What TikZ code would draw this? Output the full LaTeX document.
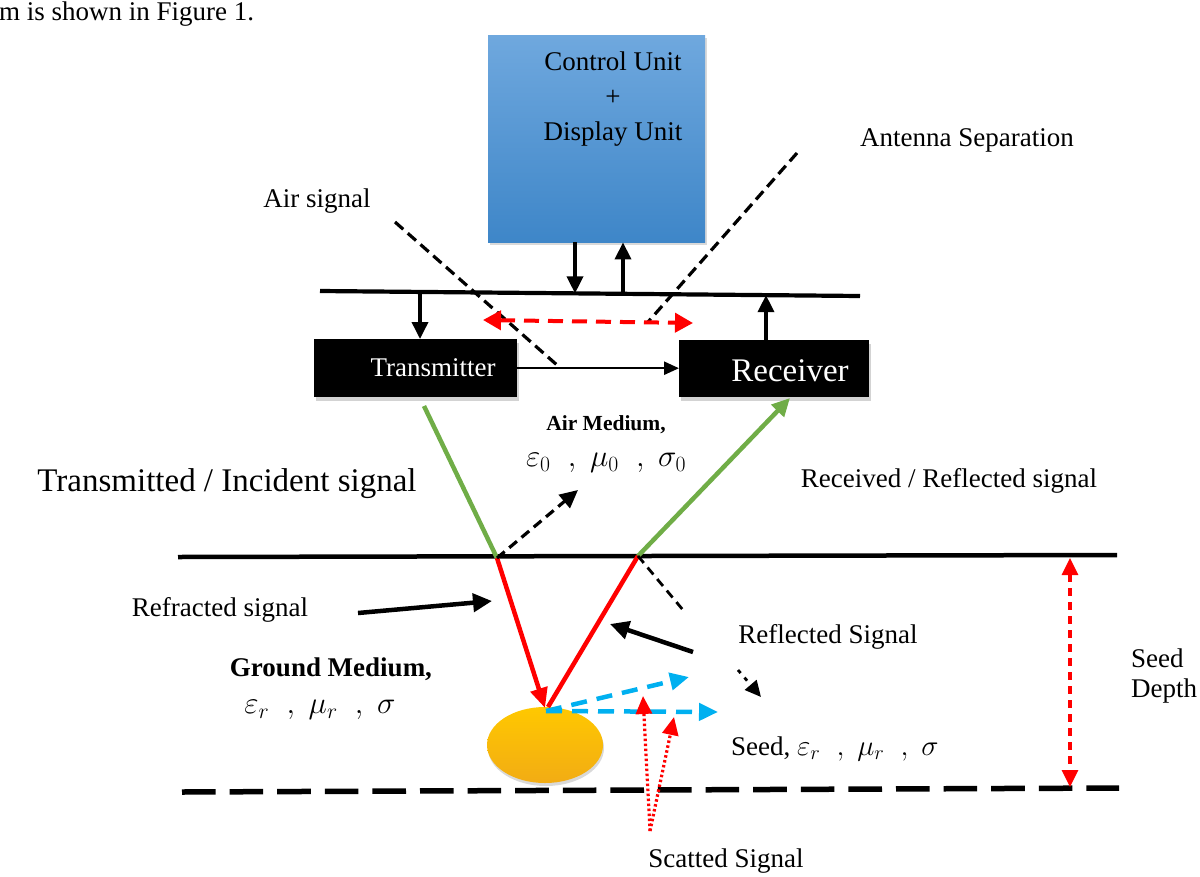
\documentclass[tikz,border=0pt]{standalone}
\usepackage{fix-cm}
\usepackage{fontspec}
\setmainfont{Liberation Serif}
\usetikzlibrary{arrows.meta,shadows,calc,shapes.geometric}
\definecolor{cublueT}{RGB}{111,168,222}
\definecolor{cublueB}{RGB}{62,134,200}
\definecolor{grn}{RGB}{112,173,71}
\definecolor{cyanb}{RGB}{0,176,240}
\definecolor{sigred}{RGB}{255,0,0}
\definecolor{seedT}{RGB}{255,200,0}
\definecolor{seedB}{RGB}{242,172,20}
\newcommand{\mparams}[3]{$#1\;\;,\;#2\;\;,\;#3$}
\begin{document}
\begin{tikzpicture}[x=1pt,y=-1pt,
  lbl/.style={inner sep=0pt, font=\fontsize{27}{31}\selectfont},
  mathlbl/.style={inner sep=0pt, font=\fontsize{31}{34}\selectfont},
  tip/.style={-{Triangle[length=17pt,width=16pt]}},
  tipsm/.style={-{Triangle[length=15pt,width=13pt]}},
  blackbox/.style={fill=black, text=white, inner sep=0pt, anchor=north west,
     drop shadow={opacity=0.35, shadow xshift=2pt, shadow yshift=-4pt}},
  busline/.style={line width=4.2pt},
  conn/.style={line width=3.6pt, tip},
  airdash/.style={line width=3.2pt, dash pattern=on 11pt off 6pt},
  grnline/.style={draw=grn, line width=4.5pt},
  redline/.style={draw=sigred, line width=4.5pt},
  bluearrow/.style={draw=cyanb, line width=4.5pt, dash pattern=on 16pt off 10pt,
     -{Triangle[length=19pt,width=17pt]}},
  dotarrow/.style={draw=sigred, line width=3.2pt, dash pattern=on 2.5pt off 2.5pt,
     -{Triangle[length=18pt,width=16pt]}},
  reddbl/.style={draw=sigred, line width=4pt, dash pattern=on 15pt off 9pt,
     {Triangle[length=18pt,width=19pt]}-{Triangle[length=18pt,width=19pt]}},
  ]
\useasboundingbox (0,0) rectangle (1200,876);

% stray caption text
\node[lbl, anchor=west] (cap) at (-1,14) {m is shown in Figure 1.};

% Control unit box
\node[anchor=north west, minimum width=217pt, minimum height=207pt, inner sep=0pt,
      top color=cublueT, bottom color=cublueB,
      drop shadow={opacity=0.3, shadow xshift=2pt, shadow yshift=-3pt}] (cu) at (488,35) {};
\node[lbl, align=center] (cutxt) at (613,99) {Control Unit\\[4pt]+\\[4pt]Display Unit};

% Bus line
\coordinate (busL) at (320,291);
\coordinate (busR) at (860,296);
\draw[busline] (busL) -- (busR);
\coordinate (b1) at (575,293.4);
\coordinate (b2) at (623,293.8);
\coordinate (b3) at (420,291.9);
\coordinate (b4) at (766,295.1);

% Transmitter / Receiver
\node[blackbox, minimum width=203pt, minimum height=58pt] (tx) at (314,339) {};
\node[lbl, text=white] (txt) at (433,368) {Transmitter};
\node[blackbox, minimum width=190pt, minimum height=57pt] (rx) at (679,340) {};
\node[inner sep=0pt, text=white, font=\fontsize{33}{36}\selectfont] (rxt) at (790,371) {Receiver};

\draw[conn] (cu.south -| b1) -- (b1);
\draw[conn] (b2) -- (cu.south -| b2);
\draw[conn] (b3) -- (tx.north -| b3);
\draw[conn] (rx.north -| b4) -- (b4);
\draw[line width=2.5pt, tipsm] (tx.east) -- (tx.east -| rx.west);

% Air signal / antenna separation dashed lines
\coordinate (as1) at (395,222);
\coordinate (as2) at (557,365);
\draw[airdash] (as1) -- (as2);
\coordinate (sp1) at (797,153);
\coordinate (sp2) at (648,322);
\draw[airdash] (sp1) -- (sp2);
\node[lbl] (airsig) at (317,201) {Air signal};
\node[lbl] (antsep) at (967,140) {Antenna Separation};

% red separation arrow
\coordinate (rs1) at (483,320);
\coordinate (rs2) at (693,323);
\draw[reddbl] (rs1) -- (rs2);

% Interface lines
\coordinate (gL) at (178,557);
\coordinate (gR) at (1117,555);
\draw[line width=4.5pt] (gL) -- (gR);
\coordinate (dL) at (182,792);
\coordinate (dR) at (1119,788);
\draw[line width=5.5pt, dash pattern=on 33.6pt off 14pt] (dL) -- (dR);

% points
\coordinate (tx0) at (424,406);
\coordinate (P1) at (497,558);
\coordinate (P2) at (638,556);
\coordinate (rx0) at (790,398);
\coordinate (S1) at (545,708);
\coordinate (S2) at (548,707);

% seed
\node[ellipse, minimum width=116pt, minimum height=76pt, inner sep=0pt,
      top color=seedT, bottom color=seedB,
      drop shadow={opacity=0.3, shadow xshift=1pt, shadow yshift=-3pt}] (seed) at (545,745) {};

% green & red rays
\draw[grnline] (tx0) -- (P1);
\draw[grnline, -{Triangle[length=18pt,width=17pt]}] (P2) -- (rx0);
\draw[redline, -{Triangle[length=20pt,width=17pt]}] (P1) -- (S1);
\draw[redline] (S2) -- (P2);

% reflected in air dashed arrow
\coordinate (am) at (578,490);
\draw[line width=3.2pt, dash pattern=on 10pt off 6pt, -{Triangle[length=18pt,width=17pt]}] (P1) -- (am);
\coordinate (ext) at (683,610);
\draw[line width=2.8pt, dash pattern=on 9pt off 6pt] (P2) -- (ext);

% labels
\node[inner sep=0pt, font=\bfseries\fontsize{21.5}{24}\selectfont] (airmed) at (606,425) {Air Medium,};
\node[mathlbl] (airpar) at (606,463) {\mparams{\varepsilon_0}{\mu_0}{\sigma_0}};
\node[inner sep=0pt, font=\fontsize{33}{36}\selectfont] (incid) at (227,484) {Transmitted / Incident signal};
\node[lbl] (recv) at (949,481) {Received / Reflected signal};
\node[lbl] (refr) at (220,610) {Refracted signal};
\node[lbl] (refl) at (828,637) {Reflected Signal};
\node[inner sep=0pt, font=\bfseries\fontsize{27}{31}\selectfont] (gmed) at (331,669) {Ground Medium,};
\node[mathlbl] (gpar) at (320,710) {\mparams{\varepsilon_r}{\mu_r}{\sigma}};
\node[lbl, anchor=west] (seedlbl) at (731,749) {Seed, {\fontsize{29}{32}\selectfont\mparams{\varepsilon_r}{\mu_r}{\sigma}}};
\node[lbl, anchor=west, align=left] (depth) at (1131,676) {Seed\\[-1pt]Depth};
\node[lbl] (scat) at (726,861) {Scatted Signal};

% pointer arrows
\coordinate (rf1) at (358,613);
\coordinate (rf2) at (492,601);
\draw[line width=4.5pt, -{Triangle[length=19pt,width=18pt]}] (rf1) -- (rf2);
\coordinate (rl1) at (693,652);
\coordinate (rl2) at (610,624);
\draw[line width=4.5pt, -{Triangle[length=19pt,width=18pt]}] (rl1) -- (rl2);
\coordinate (sm1) at (738,670);
\coordinate (sm2) at (761,697);
\draw[line width=2.8pt, dash pattern=on 4pt off 6pt, -{Triangle[length=16pt,width=15pt]}] (sm1) -- (sm2);

% blue scattered arrows
\coordinate (bs) at (546,711);
\coordinate (be1) at (689,677);
\coordinate (be2) at (718,712);
\draw[bluearrow] (bs) -- (be1);
\draw[bluearrow] (bs) -- (be2);

% red dotted arrows
\coordinate (ds) at (650,831);
\coordinate (de1) at (643,696);
\coordinate (de2) at (674,717);
\draw[dotarrow] (ds) -- (de1);
\draw[dotarrow] (ds) -- (de2);

% seed depth arrow
\coordinate (sd1) at (1070,558);
\coordinate (sd2) at (1070,787);
\draw[draw=sigred, line width=3.2pt, dash pattern=on 8pt off 6pt,
  {Triangle[length=17pt,width=16pt]}-{Triangle[length=17pt,width=16pt]}] (sd1) -- (sd2);
\end{tikzpicture}
\end{document}
